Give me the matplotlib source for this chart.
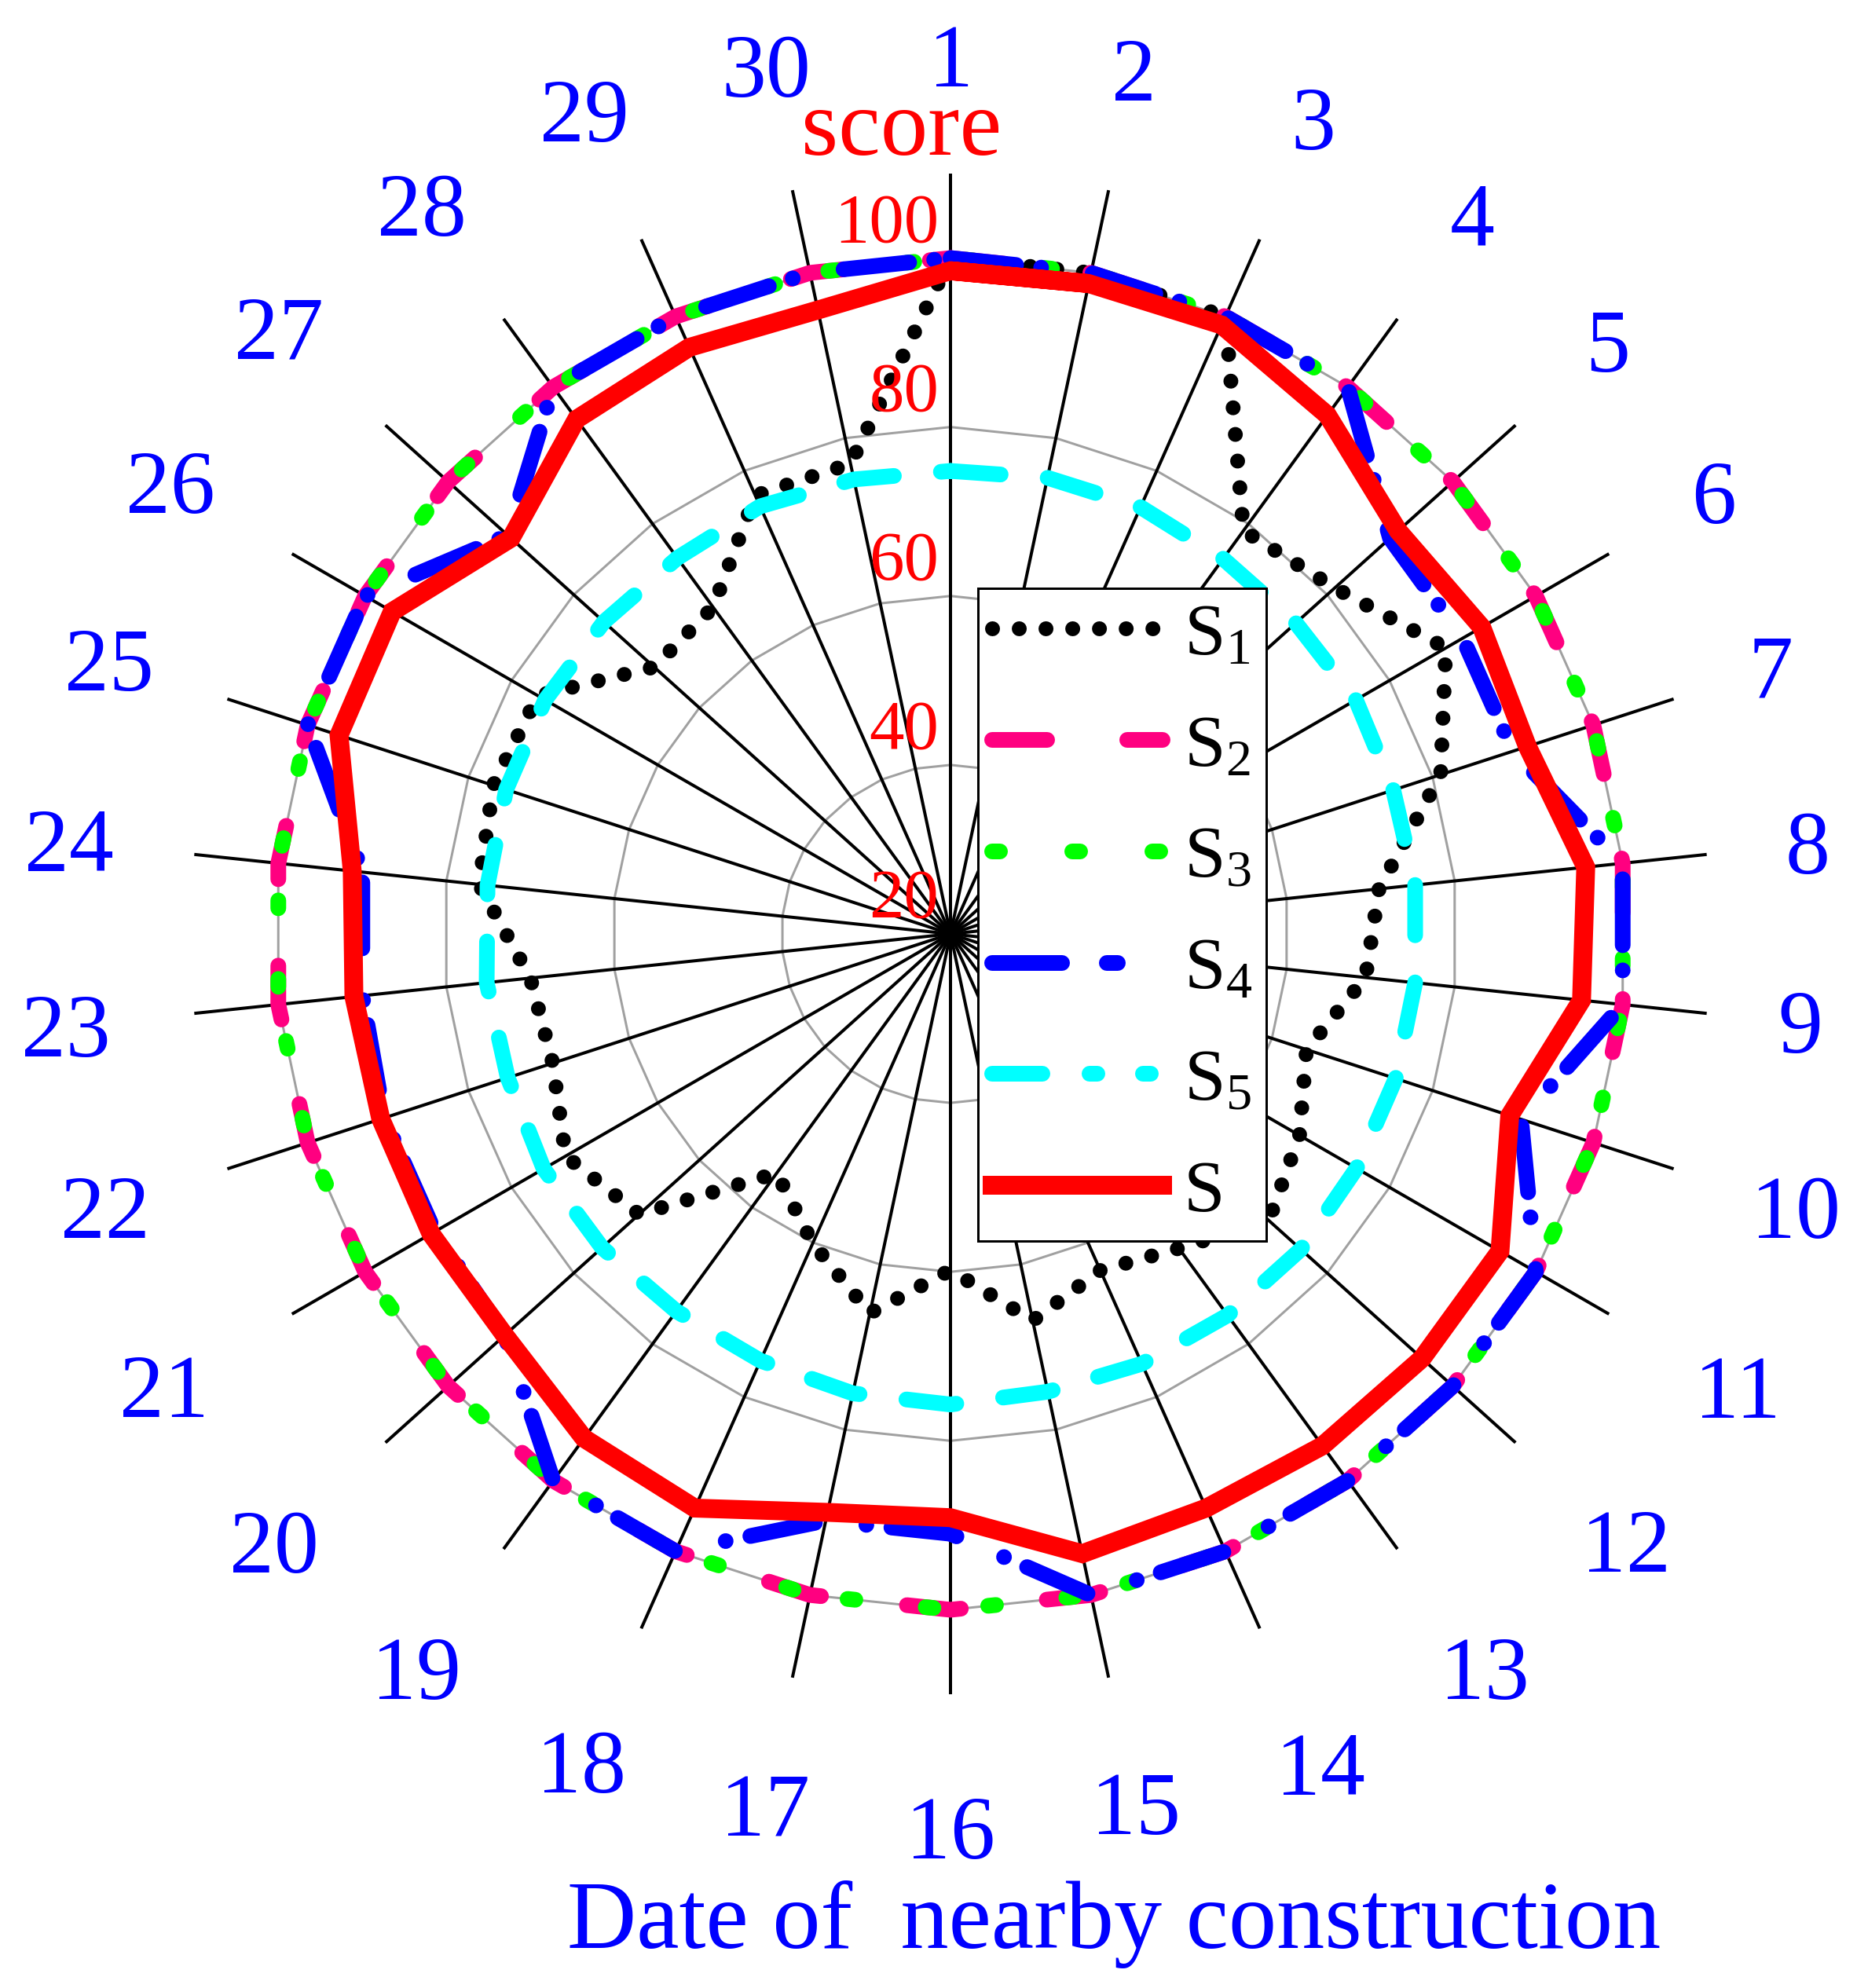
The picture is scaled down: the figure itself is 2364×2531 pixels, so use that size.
import numpy as np
import matplotlib
matplotlib.use('Agg')
import matplotlib.pyplot as plt
from matplotlib.transforms import offset_copy
from matplotlib.lines import Line2D

plt.rcParams['font.family'] = ['Liberation Serif', 'DejaVu Serif']
plt.rcParams['mathtext.fontset'] = 'custom'
plt.rcParams['mathtext.rm'] = 'Liberation Serif'
plt.rcParams['mathtext.it'] = 'Liberation Serif:italic'
plt.rcParams['lines.scale_dashes'] = False

# ---------------- data ----------------
days = [str(i) for i in range(1, 31)]
S1 = [100, 100, 100, 79.0, 81.2, 87.7, 81.0, 71.0, 69.4, 64.3,
      67.7, 70.7, 66.0, 63.6, 66.8, 59.8, 65.9, 60.1, 55.0, 69.6,
      72.6, 69.5, 70.0, 76.1, 76.9, 76.4, 67.2, 67.8, 76.8, 76.9]
S2 = [100] * 30
S3 = [100] * 30
S4 = [100, 100, 100, 100, 90, 90, 90, 100, 100, 91,
      100, 100, 100, 100, 100, 91, 91, 100, 100, 91,
      90.5, 90.5, 90, 90, 100, 100, 90.5, 100, 100, 100]
S5 = [74.8, 75.2, 75.3, 74.9, 75.0, 75.4, 75.1, 75.3, 75.3, 75.4,
      75.5, 75.8, 75.8, 75.7, 75.4, 75.7, 75.6, 75.3, 75.2, 75.5,
      75.6, 75.1, 75.2, 75.1, 75.3, 75.4, 75.2, 75.0, 75.4, 75.0]
S = [98.5, 98.7, 98.9, 95.9, 91.3, 92.6, 91.8, 95.6, 95.1, 89.6,
     95.1, 95.1, 94.9, 94.4, 95.0, 89.1, 90.0, 94.4, 93.8, 91.0,
     91.0, 90.9, 91.0, 91.2, 96.1, 96.3, 90.0, 95.3, 96.0, 95.5]
series_labels = ['S$_1$', 'S$_2$', 'S$_3$', 'S$_4$', 'S$_5$', 'S']
r_ticks = [20, 40, 60, 80, 100]
r_grid = [40, 60, 80, 100]
r_min, r_max = 20, 110

# ---------------- layout / style ----------------
W, H, DPI = 2364, 2531, 200
PT = 72.0 / DPI  # points per pixel
cx, cy, R = 1210, 1189, 968
SHRINK = 2364 / 1465.0

# radial position of the day labels (pixels from centre in the 1465-wide view)
label_rpx = [692, 696, 703, 700, 698, 695, 680, 680, 674, 701,
             717, 717, 717, 718, 702, 706, 704, 716, 717, 718,
             716, 701, 702, 699, 698, 711, 713, 710, 710, 699]
px_per_unit = R / (r_max - r_min)
DAY_FS = 41

fig = plt.figure(figsize=(W / DPI, H / DPI), dpi=DPI)
ax = fig.add_axes([(cx - R) / W, (H - cy - R) / H, 2 * R / W, 2 * R / H],
                  projection='polar')
ax.set_theta_zero_location('N')
ax.set_theta_direction(-1)
ax.set_ylim(r_min, r_max)
ax.grid(False)
ax.set_xticks([])
ax.set_yticks([])
ax.spines['polar'].set_visible(False)
ax.patch.set_alpha(0)

n = len(days)
theta = np.deg2rad(np.arange(n) * 360.0 / n)
theta_c = np.append(theta, theta[0])

# polygonal grid rings
for g in r_grid:
    ax.plot(theta_c, [g] * (n + 1), color='#A0A0A0', lw=3 * PT, zorder=1)
# spokes
for t in theta:
    ax.plot([t, t], [r_min, r_max], color='black', lw=4 * PT, zorder=1.5)


def closed(v):
    return np.append(v, v[0])


lw = 20 * PT
sty1 = dict(color='black', lw=19 * PT, dash_capstyle='round')
sty2 = dict(color='#FF0080', lw=lw, dash_capstyle='round')
sty3 = dict(color='#00FF00', lw=lw, dash_capstyle='round')
sty4 = dict(color='#0000FF', lw=lw, dash_capstyle='round')
sty5 = dict(color='#00FFFF', lw=lw, dash_capstyle='round')
sty6 = dict(color='#FF0000', lw=24 * PT)

ax.plot(theta_c, closed(S1), ls=(0, (0.01, 34 * PT)), zorder=3, **sty1)
ax.plot(theta_c, closed(S2), ls=(0, (69 * PT, 110 * PT)), zorder=3.1, **sty2)
ax.plot(theta_c, closed(S3), ls=(60 * PT, (10 * PT, 70 * PT, 10 * PT, 90 * PT)),
        zorder=3.2, **sty3)
ax.plot(theta_c, closed(S4), ls=(0, (84 * PT, 32 * PT, 0.01, 66 * PT)),
        zorder=3.3, **sty4)
ax.plot(theta_c, closed(S5), ls=(0, (64 * PT, 60 * PT)), zorder=3.4, **sty5)
th_s = np.append(theta_c, theta[1])
ax.plot(th_s, np.append(closed(S), S[1]), solid_joinstyle='miter',
        solid_capstyle='butt', zorder=3.5, **sty6)

# day labels (ink centred on the given radius)
em_px = DAY_FS * DPI / 72.0
tr_day = offset_copy(ax.transData, fig=fig, x=0, y=-0.33 * em_px, units='dots')
for t, lab, rp in zip(theta, days, label_rpx):
    ax.text(t, r_min + rp * SHRINK / px_per_unit, lab, transform=tr_day,
            color='#0000FF', fontsize=DAY_FS, ha='center', va='baseline')

# radial tick labels
tr = offset_copy(ax.transData, fig=fig, x=-15, y=21, units='dots')
for v in r_ticks:
    ax.text(0, v, str(v), transform=tr, color='#FF0000', fontsize=32,
            ha='right', va='baseline', zorder=4)

fig.text(1148 / W, 1 - 197 / H, 'score', color='#FF0000', fontsize=43.5,
         ha='center', va='baseline')
fig.text(1418 / W, 1 - 2480 / H, 'Date of  nearby construction', color='#0000FF',
         fontsize=44, ha='center', va='baseline')

# legend sample lines drawn with the dash phases seen in the reference legend
proxies = [
    Line2D([], [], ls=(0, (0.01, 34 * PT)), **sty1),
    Line2D([], [], ls=(0, (70 * PT, 102 * PT)), **sty2),
    Line2D([], [], ls=(0, (10 * PT, 92 * PT)), **sty3),
    Line2D([], [], ls=(0, (89 * PT, 57 * PT, 14 * PT, 200 * PT)), **sty4),
    Line2D([], [], ls=(0, (64 * PT, 60 * PT, 10 * PT, 58 * PT, 10 * PT, 200 * PT)),
           **sty5),
    Line2D([], [], ls='-', **sty6),
]
leg = ax.legend(proxies, series_labels, loc='upper left',
                bbox_to_anchor=(1245 / W, 1 - 749 / H),
                bbox_transform=fig.transFigure, borderaxespad=0,
                frameon=True, fancybox=False, framealpha=1, edgecolor='black',
                fontsize=34, handlelength=2.3, handletextpad=0.28,
                borderpad=0.19, labelspacing=0.59)
leg.get_frame().set_linewidth(3 * PT)
leg.set_zorder(10)

fig.savefig('out.png', dpi=DPI)
